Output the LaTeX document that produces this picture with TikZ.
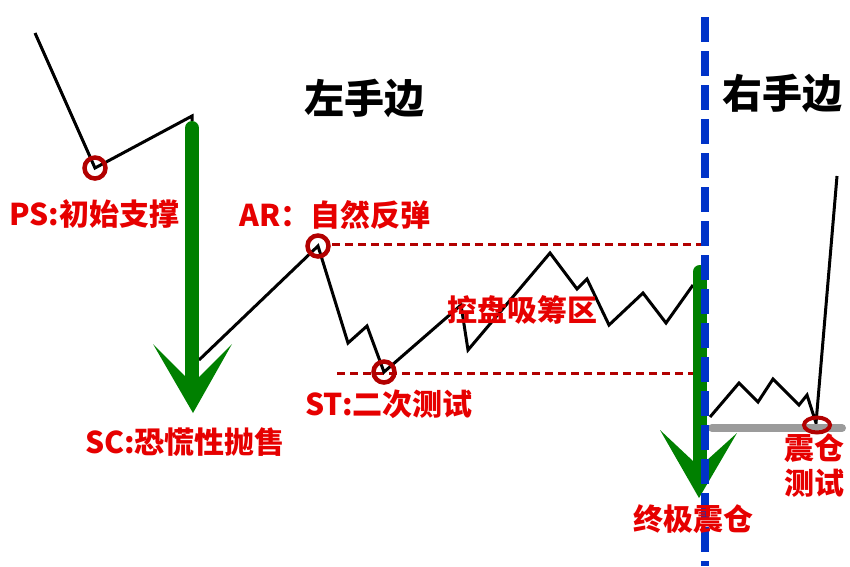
\documentclass[tikz,border=0pt]{standalone}
\usepackage{fontspec}
\usetikzlibrary{shapes.geometric}
\newfontfamily\cjk{Noto Sans CJK SC}
\definecolor{lblred}{RGB}{230,0,0}
\definecolor{ringred}{RGB}{178,0,0}
\definecolor{arrgreen}{RGB}{0,128,0}
\definecolor{divblue}{RGB}{0,51,200}
\definecolor{basegrey}{RGB}{155,155,155}
\begin{document}
\begin{tikzpicture}[x=1pt,y=-1pt,
  price/.style={black,line width=3pt,line join=miter},
  ring/.style={circle,draw=ringred,line width=4.5pt,minimum size=21pt,inner sep=0pt},
  level/.style={ringred,line width=3pt,dash pattern=on 8pt off 5pt},
  shaft/.style={arrgreen,line width=14pt,line cap=round},
  head/.style={fill=arrgreen,draw=none},
  lbl/.style={text=lblred,font=\cjk\bfseries\fontsize{30}{32}\selectfont,inner sep=0pt},
  side/.style={text=black,font=\cjk\bfseries\fontsize{40}{42}\selectfont,inner sep=0pt}]
\useasboundingbox (0,0) rectangle (850,566);
% coordinates of price path
\coordinate (p0) at (35,33);
\coordinate (p1) at (95,168);
\coordinate (p2) at (192,116);
\coordinate (p3) at (192,121);
\coordinate (q0) at (199,360);
\coordinate (q1) at (318,246);
\coordinate (q2) at (348,343);
\coordinate (q3) at (367,326);
\coordinate (q4) at (384,372);
\coordinate (q5) at (461,305);
\coordinate (q6) at (468,350);
\coordinate (q7) at (550,253);
\coordinate (q8) at (577,289);
\coordinate (q9) at (587,279);
\coordinate (q10) at (609,325);
\coordinate (q11) at (643,293);
\coordinate (q12) at (666,323);
\coordinate (q13) at (693,285);
\coordinate (r0) at (710,417);
\coordinate (r1) at (739,383);
\coordinate (r2) at (758,402);
\coordinate (r3) at (773,379);
\coordinate (r4) at (799,405);
\coordinate (r5) at (807,395);
\coordinate (r6) at (816,423);
\coordinate (r7) at (837,176);
% level lines
\coordinate (t0) at (332,244);
\coordinate (t1) at (703,244);
\coordinate (b0) at (337,373);
\coordinate (b1) at (703,373);
\draw[level] (t0) -- (t1);
\draw[level] (b0) -- (b1);
% price path
\draw[price] (p0) -- (p1) -- (p2) -- (p3);
\draw[price] (q0) -- (q1) -- (q2) -- (q3) -- (q4) -- (q5) -- (q6) -- (q7) -- (q8) -- (q9) -- (q10) -- (q11) -- (q12) -- (q13);
\draw[price] (r0) -- (r1) -- (r2) -- (r3) -- (r4) -- (r5) -- (r6) -- (r7);
% rings
\node[ring] (ps) at (p1) {};
\node[ring] (ar) at (q1) {};
\node[ring] (st) at (q4) {};
% green arrows
\coordinate (sct) at (192,128);
\coordinate (scb) at (192,382);
\draw[shaft] (sct) -- (scb);
\fill[head] (153,344) -- (193,413) -- (232,344) -- (199,377) -- (186,377) -- cycle;
\coordinate (uct) at (699.5,272);
\coordinate (ucb) at (699.5,466);
\draw[shaft] (uct) -- (ucb);
\fill[head] (660,430) -- (699,498) -- (737,433) -- (706,461) -- (693,461) -- cycle;
% grey base line
\coordinate (g0) at (712,428);
\coordinate (g1) at (842,428);
\draw[basegrey,line width=8pt,line cap=round] (g0) -- (g1);
\node[draw=ringred,line width=4pt,ellipse,minimum width=26pt,minimum height=15pt,inner sep=0pt] (sp) at (817,425) {};
% blue divider
\coordinate (d0) at (705,17);
\coordinate (d1) at (705,566);
\draw[divblue,line width=8pt,dash pattern=on 25pt off 9pt] (d0) -- (d1);
% labels
\node[side] (lh) at (364,98) {左手边};
\node[side] (rh) at (782,93) {右手边};
\node[lbl] (lps) at (94,214) {PS:初始支撑};
\node[lbl] (lar) at (335,215) {AR：自然反弹};
\node[lbl] (lzone) at (522,310) {控盘吸筹区};
\node[lbl] (lst) at (389,404) {ST:二次测试};
\node[lbl] (lsc) at (185,442) {SC:恐慌性抛售};
\node[lbl] (lus) at (693,519) {终极震仓};
\node[lbl,align=center] (lsp) at (814,466) {震仓\\[3pt]测试};
\end{tikzpicture}
\end{document}
